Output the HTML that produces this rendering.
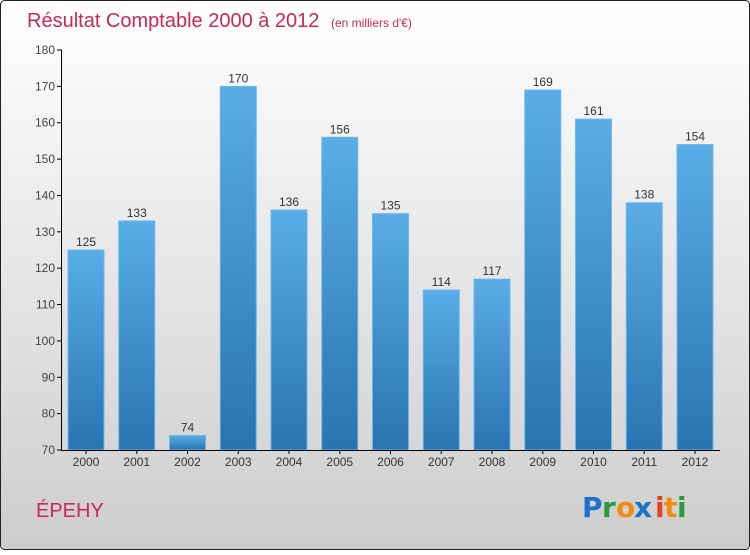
<!DOCTYPE html>
<html><head><meta charset="utf-8"><style>
html,body{margin:0;padding:0}
body{width:750px;height:550px;overflow:hidden;font-family:"Liberation Sans",sans-serif}
</style></head><body>
<svg id="chart" width="750" height="550" xmlns="http://www.w3.org/2000/svg">
<defs>
<linearGradient id="bg" x1="0" y1="0" x2="0" y2="1"><stop offset="0" stop-color="#ffffff"/><stop offset="1" stop-color="#cdcdcd"/></linearGradient>
<linearGradient id="bar" x1="0" y1="0" x2="0" y2="1"><stop offset="0" stop-color="#5aade6"/><stop offset="1" stop-color="#2874b0"/></linearGradient>
</defs>
<rect x="0.5" y="0.5" width="749" height="549" rx="4" fill="url(#bg)" stroke="#222"/>
<text x="27" y="27" font-size="20" fill="#c8285a">Résultat Comptable 2000 à 2012 <tspan font-size="12" dx="6">(en milliers d'€)</tspan></text>
<g id="plot"></g>
<text x="36" y="517" font-size="20" fill="#c8285a">ÉPEHY</text>
<g font-size="28" font-weight="bold" font-family="'DejaVu Sans',sans-serif">
<text x="582" y="517" fill="#1a73c8">P</text><text x="602" y="517" fill="#2a9a3a">r</text><text x="616" y="517" fill="#f58a10">o</text><text x="634" y="517" fill="#1a73c8">x</text><text x="655" y="517" fill="#e8401a">i</text><text x="664" y="517" fill="#f58a10">t</text><text x="677" y="517" fill="#2a9a3a">i</text>
</g>
</svg>
<script>
const categories=["2000","2001","2002","2003","2004","2005","2006","2007","2008","2009","2010","2011","2012"];
const values=[125,133,74,170,136,156,135,114,117,169,161,138,154];
const yTicks=[70,80,90,100,110,120,130,140,150,160,170,180];
const NS="http://www.w3.org/2000/svg";
const g=document.getElementById("plot");
const yMin=70,yMax=180,yTop=50,yBot=450;
const y=v=>yBot-(v-yMin)/(yMax-yMin)*(yBot-yTop);
const x0=86,step=50.75,bw=36;
const x=i=>x0+i*step;
function el(t,a){const e=document.createElementNS(NS,t);for(const k in a)e.setAttribute(k,a[k]);g.appendChild(e);return e;}
yTicks.forEach(t=>{
  const l=el("line",{x1:57,x2:62,y1:y(t),y2:y(t),stroke:"#000"});
  
  
  const tx=el("text",{x:55,y:y(t)+4,"text-anchor":"end","font-size":12,fill:"#444"});
  tx.textContent=t;
  
  
});
values.forEach((v,i)=>{
  const r=el("rect",{x:x(i)-bw/2,y:y(v),width:bw,height:yBot-y(v),fill:"url(#bar)",stroke:"#6bb8ec","stroke-width":1});
  
  
  const vl=el("text",{x:x(i),y:y(v)-4,"text-anchor":"middle","font-size":12,fill:"#333"});
  vl.textContent=v;
  
  
  const tk=el("line",{x1:x(i),x2:x(i),y1:yBot,y2:yBot+4,stroke:"#000"});
  
  
  const cl=el("text",{x:x(i),y:yBot+16,"text-anchor":"middle","font-size":12,fill:"#333"});
  cl.textContent=categories[i];
  
  
});
const ya=el("line",{x1:61.5,x2:61.5,y1:yTop,y2:yBot,stroke:"#000"});


const xa=el("line",{x1:61,x2:720,y1:yBot+0.5,y2:yBot+0.5,stroke:"#000"});


</script>
</body></html>
